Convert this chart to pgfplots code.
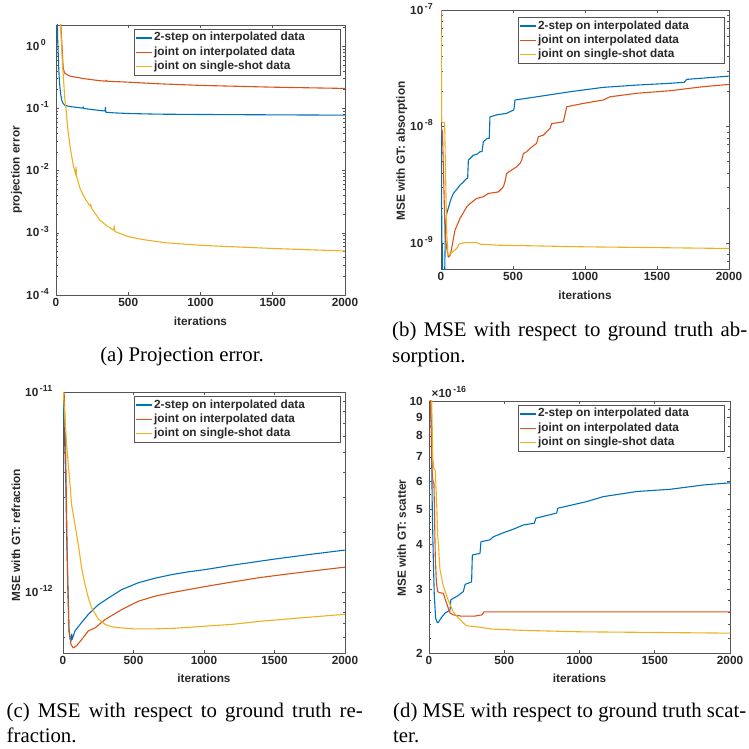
\documentclass[border=0pt]{standalone}
\usepackage{fontspec}
\setmainfont{Liberation Serif}
\newfontfamily\axfont{Liberation Sans}
\usepackage{pgfplots}
\pgfplotsset{compat=1.18}

\definecolor{mblue}{RGB}{0,114,189}
\definecolor{mred}{RGB}{217,83,25}
\definecolor{myellow}{RGB}{237,177,32}
\definecolor{axgray}{RGB}{85,85,85}
\definecolor{txtgray}{RGB}{40,40,40}

% MATLAB-like axis text and power-of-ten labels
\newcommand\tf{\axfont\bfseries\fontsize{11.8}{13}\selectfont}
\newcommand\ex[1]{10\kern1.6pt\smash{\raisebox{4.8pt}{\fontsize{8.8}{9}\selectfont #1}}}
\newcommand\capfont{\fontsize{20.8}{25.5}\selectfont}
\newcommand\legtxt[1]{\makebox[184pt][l]{#1}}

\pgfplotsset{
  mat/.style={
    scale only axis,
    anchor=south west,
    clip mode=individual,
    xmin=0, xmax=2000,
    xtick={0,500,1000,1500,2000},
    xticklabels={0,500,1000,1500,2000},
    axis line style={axgray, line width=0.8pt},
    every tick/.style={axgray, line width=0.6pt},
    major tick length=3pt,
    minor tick length=1.8pt,
    tick align=inside,
    tick label style={font=\tf, text=txtgray},
    label style={font=\tf, text=txtgray},
    xlabel={iterations},
    every axis plot/.append style={line width=1.1pt, line join=round},
    legend cell align=left,
    legend style={at={(1,1)}, anchor=north east, xshift=-4pt, yshift=-4pt,
      draw=axgray, line width=0.8pt, fill=white, inner xsep=1pt, inner ysep=1.5pt,
      font=\tf, text=txtgray,
      nodes={inner sep=1.5pt, text height=8.6pt, text depth=2.6pt}, row sep=0pt},
    legend image code/.code={\draw[#1, line width=1.2pt] (0pt,0pt) -- (16pt,0pt);},
  },
}

\begin{document}
\begin{tikzpicture}
\useasboundingbox (0pt,0pt) rectangle (749pt,749pt);

% ---------------- (a) projection error ----------------
\begin{axis}[mat, ymode=log,
  yticklabel style={anchor=west, inner sep=0pt, xshift=-30pt},
  at={(56pt,454pt)}, width=289pt, height=270pt,
  ymin=1e-4, ymax=2.2,
  ytick={1e-4,1e-3,1e-2,1e-1,1},
  yticklabels={\ex{-4},\ex{-3},\ex{-2},\ex{-1},\ex{0}},
  minor ytick={2e-4,3e-4,4e-4,5e-4,6e-4,7e-4,8e-4,9e-4,
               2e-3,3e-3,4e-3,5e-3,6e-3,7e-3,8e-3,9e-3,
               2e-2,3e-2,4e-2,5e-2,6e-2,7e-2,8e-2,9e-2,
               0.2,0.3,0.4,0.5,0.6,0.7,0.8,0.9,2},
  ylabel={projection error},
  ylabel style={at={(axis description cs:-0.136,0.463)}, anchor=center},
  xlabel style={at={(axis description cs:0.5,-0.096)}, anchor=center},
]
\addplot[mblue] coordinates {
 (0,5) (9,2.5) (12,1.2) (15,0.8) (18,0.5) (21,0.35) (24,0.27) (28,0.21)
 (33,0.165) (40,0.135) (50,0.12) (62,0.112) (100,0.107) (150,0.104)
 (185,0.101) (188,0.106) (192,0.1) (250,0.096) (300,0.093) (340,0.091)
 (342,0.105) (345,0.087) (400,0.085) (500,0.083) (700,0.081) (1000,0.08)
 (1500,0.079) (2000,0.078)};
\addlegendentry{\legtxt{2-step on interpolated data}}
\addplot[mred] coordinates {
 (0,5) (30,3) (40,1.2) (45,0.7) (50,0.45) (55,0.4) (60,0.37) (75,0.35)
 (100,0.33) (200,0.3) (300,0.28) (345,0.275) (348,0.285) (352,0.274)
 (500,0.265) (700,0.25) (1000,0.235) (1500,0.22) (2000,0.21)};
\addlegendentry{\legtxt{joint on interpolated data}}
\addplot[myellow] coordinates {
 (0,5) (28,3) (35,1.5) (45,0.5) (51,0.33) (60,0.15) (69,0.1) (80,0.05)
 (100,0.022) (120,0.012) (137,0.0085) (139,0.0115) (142,0.0082)
 (166,0.0052) (200,0.0036) (235,0.0027) (240,0.0029) (245,0.0025)
 (304,0.0016) (350,0.0013) (400,0.0011) (403,0.0013) (407,0.00105)
 (500,0.00087) (600,0.00078) (765,0.00069) (1000,0.00063) (1200,0.0006)
 (1500,0.00056) (2000,0.00051)};
\addlegendentry{\legtxt{joint on single-shot data}}
\end{axis}

% ---------------- (b) absorption ----------------
\begin{axis}[mat, ymode=log,
  yticklabel style={anchor=west, inner sep=0pt, xshift=-31pt},
  at={(441pt,480pt)}, width=288pt, height=259pt,
  ymin=6e-10, ymax=1e-7,
  ytick={1e-9,1e-8,1e-7},
  yticklabels={\ex{-9},\ex{-8},\ex{-7}},
  minor ytick={7e-10,8e-10,9e-10,
               2e-9,3e-9,4e-9,5e-9,6e-9,7e-9,8e-9,9e-9,
               2e-8,3e-8,4e-8,5e-8,6e-8,7e-8,8e-8,9e-8},
  ylabel={MSE with GT: absorption},
  ylabel style={at={(axis description cs:-0.136,0.456)}, anchor=center},
  xlabel style={at={(axis description cs:0.5,-0.100)}, anchor=center},
  legend style={yshift=-3pt},
]
\addplot[mblue] coordinates {
 (0,1.0e-8) (3,4e-9) (6,1.0e-9) (9,1.0e-9) (12,5e-10) (25,5e-10)
 (30,1.2e-9) (35,1.6e-9) (40,1.8e-9) (51,2.0e-9) (70,2.4e-9) (86,2.67e-9)
 (110,2.9e-9) (132,3.15e-9) (150,3.3e-9) (178,3.59e-9) (185,3.6e-9)
 (190,5.15e-9) (224,5.68e-9) (250,5.8e-9) (271,6.08e-9) (285,6.1e-9)
 (294,7.41e-9) (320,7.9e-9) (335,7.94e-9) (340,1.21e-8) (387,1.26e-8)
 (456,1.3e-8) (506,1.39e-8) (514,1.69e-8) (664,1.80e-8) (896,1.99e-8)
 (1127,2.17e-8) (1359,2.27e-8) (1590,2.35e-8) (1690,2.40e-8)
 (1706,2.54e-8) (2000,2.71e-8)};
\addlegendentry{\legtxt{2-step on interpolated data}}
\addplot[mred] coordinates {
 (0,1.0e-8) (10,9e-9) (20,3e-9) (28,1.21e-9) (40,9e-10) (51,7.6e-10)
 (62,7.8e-10) (74,9.0e-10) (97,1.29e-9) (132,1.63e-9) (178,2.04e-9)
 (201,2.18e-9) (248,2.42e-9) (294,2.5e-9) (329,2.67e-9) (398,2.75e-9)
 (433,3.04e-9) (444,3.36e-9) (456,3.97e-9) (525,4.52e-9) (549,4.83e-9)
 (560,5.15e-9) (572,5.88e-9) (595,6.08e-9) (618,6.5e-9) (664,7.18e-9)
 (676,8.18e-9) (711,8.45e-9) (757,9.64e-9) (769,1.06e-8) (850,1.10e-8)
 (873,1.48e-8) (988,1.58e-8) (1127,1.69e-8) (1173,1.80e-8)
 (1359,1.93e-8) (1590,2.03e-8) (1822,2.20e-8) (2000,2.30e-8)};
\addlegendentry{\legtxt{joint on interpolated data}}
\addplot[myellow] coordinates {
 (0,1.0e-7) (2,5e-8) (5,1.1e-8) (10,1.08e-8) (25,1.08e-8) (30,5e-9)
 (40,1.2e-9) (49,7.9e-10) (60,8.0e-10) (80,8.4e-10) (100,8.8e-10)
 (115,9.2e-10) (125,9.8e-10) (160,1.01e-9) (250,1.01e-9) (270,9.8e-10)
 (400,9.6e-10) (600,9.5e-10) (1000,9.3e-10) (1500,9.15e-10) (2000,9.0e-10)};
\addlegendentry{\legtxt{joint on single-shot data}}
\end{axis}

% ---------------- (c) refraction ----------------
\begin{axis}[mat, ymode=log,
  yticklabel style={anchor=west, inner sep=0pt, xshift=-38pt},
  at={(63pt,96pt)}, width=282pt, height=261pt,
  ymin=5e-13, ymax=1e-11,
  ytick={1e-12,1e-11},
  yticklabels={\ex{-12},\ex{-11}},
  minor ytick={6e-13,7e-13,8e-13,9e-13,
               2e-12,3e-12,4e-12,5e-12,6e-12,7e-12,8e-12,9e-12},
  ylabel={MSE with GT: refraction},
  ylabel style={at={(axis description cs:-0.167,0.452)}, anchor=center},
  xlabel style={at={(axis description cs:0.5,-0.096)}, anchor=center},
]
\addplot[mblue] coordinates {
 (0,1.05e-11) (5,8e-12) (14,5.05e-12) (20,3.5e-12) (26,1.94e-12)
 (32,1.3e-12) (38,9.1e-13) (42,6.45e-13) (50,5.9e-13) (57,5.73e-13)
 (62,6.2e-13) (65,5.85e-13) (85,6.45e-13) (132,7.1e-13) (180,7.8e-13)
 (250,8.7e-13) (322,9.4e-13) (416,1.035e-12) (534,1.12e-12)
 (652,1.18e-12) (771,1.23e-12) (889,1.27e-12) (1000,1.3e-12)
 (1200,1.37e-12) (1500,1.47e-12) (1750,1.55e-12) (2000,1.63e-12)};
\addlegendentry{\legtxt{2-step on interpolated data}}
\addplot[mred] coordinates {
 (7,1.05e-11) (12,8e-12) (19,5.05e-12) (26,2.35e-12) (33,1.1e-12)
 (42,6.67e-13) (57,5.5e-13) (73,5.3e-13) (97,5.45e-13) (132,5.83e-13)
 (180,6.45e-13) (227,6.67e-13) (298,7.34e-13) (416,8.23e-13)
 (534,9.06e-13) (652,9.6e-13) (771,1.0e-12) (1000,1.07e-12)
 (1200,1.13e-12) (1400,1.19e-12) (1600,1.24e-12) (1800,1.29e-12)
 (2000,1.34e-12)};
\addlegendentry{\legtxt{joint on interpolated data}}
\addplot[myellow] coordinates {
 (0,1.05e-11) (2,1.0e-11) (14,7.4e-12) (26,5.45e-12) (38,4.33e-12)
 (50,3.45e-12) (61,2.74e-12) (85,2.18e-12) (109,1.73e-12) (132,1.33e-12)
 (156,1.1e-12) (180,9.4e-13) (203,8.4e-13) (250,7.4e-13) (298,6.95e-13)
 (345,6.75e-13) (416,6.67e-13) (500,6.6e-13) (652,6.6e-13) (800,6.65e-13)
 (1000,6.8e-13) (1200,6.95e-13) (1400,7.2e-13) (1700,7.5e-13)
 (2000,7.8e-13)};
\addlegendentry{\legtxt{joint on single-shot data}}
\end{axis}

% ---------------- (d) scatter ----------------
\begin{axis}[mat, ymode=log, name=dax,
  at={(429pt,96pt)}, width=301pt, height=252pt,
  ymin=2, ymax=10,
  ytick={2,3,4,5,6,7,8,9,10},
  yticklabels={2,3,4,5,6,7,8,9,10},
  minor ytick={2.2,2.4,2.6,2.8,3.2,3.4,3.6,3.8,4.2,4.4,4.6,4.8,
               5.5,6.5,7.5,8.5,9.5},
  yticklabel style={anchor=east, inner sep=0pt, xshift=-6pt},
  ylabel={MSE with GT: scatter},
  ylabel style={at={(axis description cs:-0.091,0.456)}, anchor=center},
  xlabel style={at={(axis description cs:0.5,-0.099)}, anchor=center},
  legend style={xshift=-1pt},
]
\addplot[mblue] coordinates {
 (0,11) (8,11) (13,10) (18,6.8) (22,4.93) (29,3.58) (35,2.9) (44,2.5)
 (55,2.43) (62,2.43) (80,2.5) (106,2.58) (140,2.63) (145,2.81) (190,2.88)
 (228,2.96) (240,3.1) (283,3.15) (288,3.74) (339,3.78) (345,4.07)
 (405,4.12) (427,4.2) (494,4.31) (560,4.41) (627,4.53) (700,4.58)
 (710,4.73) (849,4.89) (855,5.04) (1048,5.26) (1159,5.43) (1381,5.61)
 (1603,5.69) (1824,5.85) (2000,5.93)};
\addlegendentry{\legtxt{2-step on interpolated data}}
\addplot[mred] coordinates {
 (0,11) (5,10.5) (15,8.5) (18,7.16) (22,6.2) (28,5.97) (33,5.9) (38,4.5)
 (42,3.66) (49,3.15) (57,2.96) (70,2.94) (95,2.93) (110,2.8) (140,2.58)
 (163,2.55) (217,2.53) (300,2.53) (350,2.55) (367,2.6) (2000,2.6)};
\addlegendentry{\legtxt{joint on interpolated data}}
\addplot[myellow] coordinates {
 (0,11) (18,10) (25,7) (31,6.53) (42,6.4) (51,5.2) (57,4.3) (62,4.03)
 (73,3.4) (95,3.07) (128,2.8) (161,2.6) (195,2.5) (239,2.4) (250,2.38)
 (330,2.36) (416,2.33) (640,2.31) (1000,2.29) (1500,2.28) (2000,2.27)};
\addlegendentry{\legtxt{joint on single-shot data}}
\end{axis}
% common scale factor of (d)
\node[anchor=base west, inner sep=0pt, font=\tf, text=txtgray]
  at (431.5pt,351.7pt) {\symbol{"00D7}\ex{-16}};

% ---------------- sub-captions ----------------
\node[anchor=base, inner sep=0pt, font=\capfont] at (182pt,387.5pt) {(a) Projection error.};
\node[anchor=base west, inner sep=0pt, font=\capfont] at (392pt,412pt)
  {\makebox[355pt][s]{(b) MSE with respect to ground truth ab-}};
\node[anchor=base west, inner sep=0pt, font=\capfont] at (392pt,386.5pt) {sorption.};
\node[anchor=base west, inner sep=0pt, font=\capfont] at (6.5pt,31pt)
  {\makebox[356pt][s]{(c) MSE with respect to ground truth re-}};
\node[anchor=base west, inner sep=0pt, font=\capfont] at (6.5pt,6pt) {fraction.};
\node[anchor=base west, inner sep=0pt, font=\capfont] at (393pt,31pt)
  {\makebox[353pt][s]{(d) MSE with respect to ground truth scat-}};
\node[anchor=base west, inner sep=0pt, font=\capfont] at (393pt,6pt) {ter.};
\end{tikzpicture}
\end{document}
